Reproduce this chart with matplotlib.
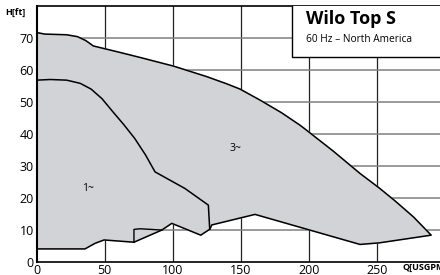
import matplotlib.pyplot as plt
from matplotlib.patches import Rectangle

plt.rcParams['font.family'] = ['Open Sans', 'DejaVu Sans']

# 3~ envelope, upper curve (Q in USGPM, H in ft)
top3_q = [0, 6, 22, 30, 36, 39, 41.6, 60, 76, 100.5, 125, 140, 149.5, 164, 180, 193.6, 198.5, 218, 237.7, 252, 263.5, 277, 290]
top3_h = [71.7, 71.2, 71.0, 70.4, 69.2, 68.3, 67.5, 65.6, 63.9, 61.2, 57.9, 55.6, 54.0, 50.6, 46.6, 42.7, 41.1, 34.6, 27.6, 23.0, 19.0, 14.0, 8.3]

# lower edge, from the right tip back to the origin
bot_q = [290, 252, 237.7, 160.5, 128.7, 127.4, 120.6, 99.3, 92, 71.5, 49.5, 42.9, 35.5, 0]
bot_h = [8.3, 5.9, 5.4, 14.8, 11.5, 10.2, 8.3, 12.0, 9.9, 6.1, 6.8, 5.75, 4.0, 4.0]

# 1~ curve
c1_q = [0, 10, 22, 32, 40, 48, 56, 64, 72, 80, 87, 109, 126.2, 127.2]
c1_h = [56.8, 57.0, 56.8, 55.8, 54.0, 51.0, 46.9, 42.9, 38.6, 33.4, 28.1, 22.9, 17.7, 10.2]

# small step on the 1~ lower edge
notch_q = [71.5, 71.5, 76, 92]
notch_h = [6.1, 10.1, 10.3, 9.9]

xticks = [0, 50, 100, 150, 200, 250]
yticks = [0, 10, 20, 30, 40, 50, 60, 70]

fig = plt.figure(figsize=(4.4, 2.75), dpi=100)
ax = fig.add_axes([0.0834, 0.0484, 0.9166, 0.9298])
ax.set_xlim(0, 296.5)
ax.set_ylim(0, 80)

for x in xticks[1:]:
    ax.axvline(x, color='#222222', lw=0.9, zorder=1)
for y in yticks[1:]:
    ax.axhline(y, color='#808080', lw=1.1, zorder=1)

poly_q = top3_q + bot_q
poly_h = top3_h + bot_h
ax.fill(poly_q, poly_h, color='#d2d3d6', zorder=2)
ax.plot(poly_q + [poly_q[0]], poly_h + [poly_h[0]], color='black', lw=1.1, zorder=3)
ax.plot(c1_q, c1_h, color='black', lw=1.1, zorder=3)
ax.plot(notch_q, notch_h, color='black', lw=1.0, zorder=3)

ax.text(37.7, 23, '1~', fontsize=7.5, ha='center', va='center', zorder=4)
ax.text(146, 35.5, '3~', fontsize=7.5, ha='center', va='center', zorder=4)

box = Rectangle((187.9, 64), 120, 20, facecolor='white', edgecolor='black', lw=1.0, zorder=5)
ax.add_patch(box)
ax.text(198, 76.0, 'Wilo Top S', fontsize=13, fontweight='bold', va='center', zorder=6)
ax.text(198, 69.6, '60 Hz – North America', fontsize=7.3, va='center', zorder=6)

ax.set_xticks(xticks)
ax.set_yticks(yticks)
ax.tick_params(length=0, labelsize=9, pad=2)
for s in ['top', 'left', 'bottom']:
    ax.spines[s].set_color('black')
ax.spines['left'].set_linewidth(1.5)
ax.spines['bottom'].set_linewidth(1.2)
ax.spines['top'].set_linewidth(1.2)
ax.spines['right'].set_visible(False)

fig.text(0.012, 0.953, 'H[ft]', fontsize=6.5, fontweight='bold', va='center')
fig.text(0.914, 0.01, 'Q[USGPM]', fontsize=6.5, fontweight='bold', va='bottom')

fig.savefig('out.png', dpi=100)
